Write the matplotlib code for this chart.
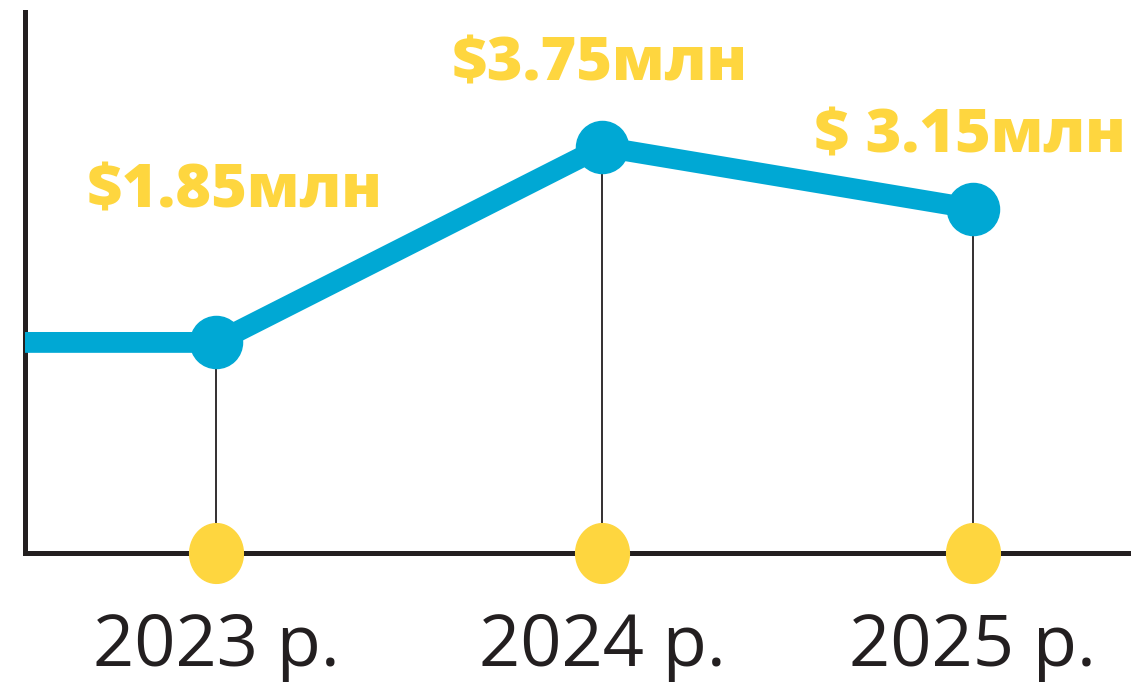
import matplotlib.pyplot as plt
from matplotlib.path import Path
import numpy as np

years = ['2023 р.', '2024 р.', '2025 р.']
x_pos = [0, 1, 1.96]
values = [1.85, 3.75, 3.15]
labels = ['$1.85млн', '$3.75млн', '$ 3.15млн']

blue = '#00A8D4'
yellow = '#FED63F'
dark = '#231F20'

fig = plt.figure(figsize=(11.31, 6.82), dpi=100)
ax = fig.add_axes([0.022, 0.189, 0.978, 0.793])
ax.set_xlim(-0.495, 2.37)
ax.set_ylim(-0.196, 5.056)

# line starts flat from the left axis
line_x = [ax.get_xlim()[0]] + x_pos
line_y = [values[0]] + values
ax.plot(line_x, line_y, color=blue, lw=15, solid_capstyle='butt', zorder=3)
ax.plot(x_pos, values, 'o', color=blue, ms=37.5, zorder=4)

# thin drop lines
ymin = ax.get_ylim()[0]
for x, v in zip(x_pos, values):
    ax.plot([x, x], [ymin, v], color=dark, lw=1.3, zorder=2)

# yellow dots on the axis (slightly taller than wide)
t = np.linspace(0, 2 * np.pi, 60)
ell = Path(np.column_stack([np.cos(t) * 0.9, np.sin(t)]))
ax.plot(x_pos, [ymin] * 3, ls='none', marker=ell, color=yellow, ms=43,
        clip_on=False, zorder=5)

offsets = [(19, 151), (-2, 82), (-3, 72)]
for x, v, lab, off in zip(x_pos, values, labels, offsets):
    ax.annotate(lab, (x, v), xytext=(off[0] * 0.72, off[1] * 0.72),
                textcoords='offset points', ha='center', va='center',
                color=yellow, fontsize=44, fontweight=800, family='Open Sans')

ax.set_xticks(x_pos)
ax.set_xticklabels(years, fontsize=52, color=dark, family='Open Sans')
ax.tick_params(axis='x', length=0, pad=42)
ax.set_yticks([])

for s in ['top', 'right']:
    ax.spines[s].set_visible(False)
ax.spines['left'].set_linewidth(3.6)
ax.spines['bottom'].set_linewidth(3.6)
ax.spines['left'].set_color(dark)
ax.spines['bottom'].set_color(dark)

fig.savefig('out.png', dpi=100)
